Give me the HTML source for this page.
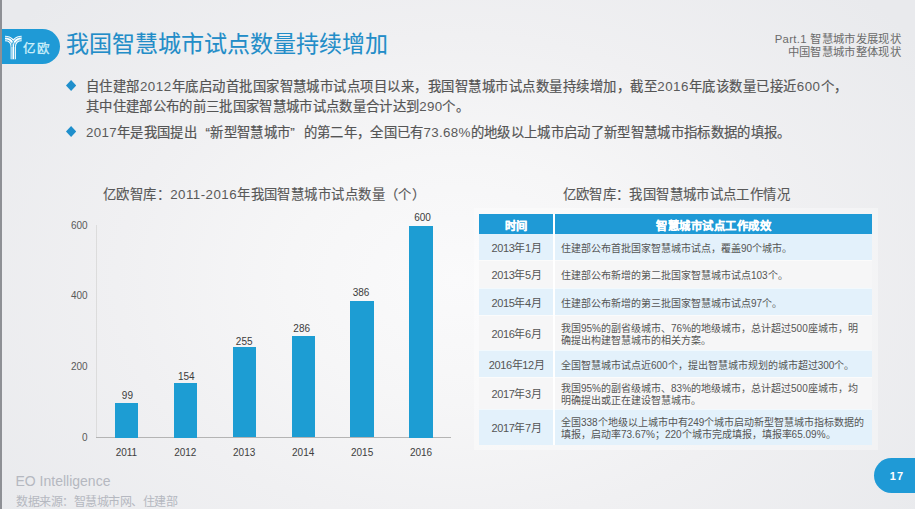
<!DOCTYPE html>
<html lang="zh-CN"><head><meta charset="utf-8">
<style>
*{margin:0;padding:0;box-sizing:border-box}
html,body{width:915px;height:509px;overflow:hidden}
body{position:relative;font-family:"Liberation Sans",sans-serif;color:#595959;
background:radial-gradient(ellipse 62% 80% at 50% 55%,#fafafb 0%,#f6f6f7 30%,#f0f0f2 60%,#e9eaed 100%);}
#tframe{left:474px;top:208px;width:404px;height:242px;background:rgba(255,255,255,0.35)}
.abs{position:absolute;white-space:nowrap}
#lbar{left:0;top:0;width:1.5px;height:509px;background:#8e9095}
#logo{left:2px;top:29px;width:58px;height:35px;background:#1f9ad6;border-radius:0 18px 18px 0}
#logo svg{position:absolute;left:0;top:0}
#logotxt{left:20.5px;top:7.5px;font-size:12.5px;line-height:25px;color:#cdf0fb;letter-spacing:1.4px;-webkit-text-stroke:0.35px #cdf0fb}
#title{left:65.5px;top:29px;font-size:23px;line-height:30px;color:#238dc8;-webkit-text-stroke:0.1px #238dc8}
#part{right:14px;top:33px;font-size:11.33px;line-height:13px;color:#6b6b6b;text-align:right;letter-spacing:0.33px}
.bul{left:86px;font-size:13.33px;line-height:20px;color:#555;letter-spacing:0.33px;-webkit-text-stroke:0.2px #555}
.bul .n{-webkit-text-stroke:0;color:#5a5a5a}
.ql{display:inline-block;width:13.33px;text-align:right}.qr{display:inline-block;width:13.33px;text-align:left}
.dia{width:10.2px;height:11px;background:#1f8fcc;clip-path:polygon(50% 0,100% 50%,50% 100%,0 50%)}
#ctitle{left:103px;top:185.5px;font-size:13.33px;line-height:18px;color:#595959;letter-spacing:0.45px;-webkit-text-stroke:0.15px #595959}
#ctitle .n{-webkit-text-stroke:0}
#ttitle{left:562.5px;top:185.5px;font-size:13.33px;line-height:18px;color:#595959;letter-spacing:0.38px;-webkit-text-stroke:0.15px #595959}
.ylab{font-size:10px;line-height:12px;color:#595959;text-align:right;width:30.6px}
.bar{background:#1d9dd3;width:23.4px}
.vlab{font-size:10px;line-height:12px;color:#3c3c3c;text-align:center;width:40px}
.xlab{font-size:10px;line-height:12px;color:#404040;text-align:center;width:40px}
#eo{left:15.5px;top:472.5px;font-size:14px;line-height:16px;color:#b5b8c0}
#src{left:16px;top:494.5px;font-size:12px;line-height:14px;color:#b5b8c0;letter-spacing:-0.5px}
#pg{left:874px;top:458px;width:50px;height:35px;background:#1f9ad6;border-radius:18px 0 0 18px;color:#fff;font-weight:bold;font-size:11px;line-height:36.5px;padding-left:15.8px;letter-spacing:1.1px}
table{position:absolute;left:479px;top:214px;width:393px;border-collapse:collapse;font-size:10px;color:#555}
td,th{padding:0;vertical-align:middle}
th{background:#1f9ad6;color:#fff;font-weight:bold;height:20px;font-size:11.33px;letter-spacing:0.5px;padding-top:2px;-webkit-text-stroke:0.25px #fff}
td.c1{width:75px;text-align:center;font-size:11px;line-height:12px;border-right:2px solid #fff;letter-spacing:-0.4px;padding:2px 0 0 1px}
th.c1{border-right:2px solid #fff}
td.c2{padding:4px 0 0 6px;line-height:12px}
td.c2 .n{letter-spacing:0}
tr.b td{background:#e3f1fb}
tr.w td{background:#f6f6f7}
tr+tr+tr td{box-shadow:inset 0 1px 0 rgba(255,255,255,.55)}
</style></head><body>
<div class="abs" id="lbar"></div>
<div class="abs" id="logo">
<svg width="58" height="35" viewBox="0 0 58 35">
<g fill="none" stroke-linecap="butt">
<path d="M3,9.5 C8,9.5 11.3,12.5 11.3,18 L11.3,30.2 M19.6,9.5 C14.6,9.5 11.3,12.5 11.3,18" stroke="#fff" stroke-width="5.3"/>
<path d="M3,8.2 C9,8.2 12.6,12 12.6,18 L12.6,30.5 M3,10.8 C7.5,10.8 10,13.5 10,18 L10,30.5" stroke="#1f9ad6" stroke-width="0.8"/>
<path d="M19.6,8.2 C13.6,8.2 10,12 10,18 M19.6,10.8 C15.1,10.8 12.6,13.5 12.6,18" stroke="#1f9ad6" stroke-width="0.8"/>
</g>
</svg>
<div class="abs" id="logotxt">亿欧</div>
</div>
<div class="abs" id="title">我国智慧城市试点数量持续增加</div>
<div class="abs" id="part">Part.1 智慧城市发展现状<br>中国智慧城市整体现状</div>

<div class="abs dia" style="left:66px;top:80px"></div>
<div class="abs bul" style="top:77px;letter-spacing:0.49px">自住建部<span class="n">2012</span>年底启动首批国家智慧城市试点项目以来，我国智慧城市试点数量持续增加，截至<span class="n">2016</span>年底该数量已接近<span class="n">600</span>个，</div>
<div class="abs bul" style="top:97px">其中住建部公布的前三批国家智慧城市试点数量合计达到<span class="n">290</span>个。</div>
<div class="abs dia" style="left:66px;top:126px"></div>
<div class="abs bul" style="top:123px"><span class="n">2017</span>年是我国提出<span class="ql">“</span>新型智慧城市<span class="qr">”</span>的第二年，全国已有<span class="n">73.68%</span>的地级以上城市启动了新型智慧城市指标数据的填报。</div>

<div class="abs" id="ctitle">亿欧智库：<span class="n">2011-2016</span>年我国智慧城市试点数量（个）</div>
<div class="abs" id="ttitle">亿欧智库：我国智慧城市试点工作情况</div>

<!-- chart -->
<div class="abs" style="left:96px;top:225px;width:1px;height:213px;background:#dcdcdc"></div>
<div class="abs" style="left:96px;top:437px;width:355px;height:1px;background:#b4b4b4"></div>
<div class="abs ylab" style="left:57px;top:220px">600</div>
<div class="abs ylab" style="left:57px;top:290px">400</div>
<div class="abs ylab" style="left:57px;top:361px">200</div>
<div class="abs ylab" style="left:57px;top:432px">0</div>

<div class="abs bar" style="left:114.7px;top:402.5px;height:35px"></div>
<div class="abs bar" style="left:173.6px;top:383px;height:54.5px"></div>
<div class="abs bar" style="left:232.5px;top:347.4px;height:90.1px"></div>
<div class="abs bar" style="left:291.5px;top:336.4px;height:101.1px"></div>
<div class="abs bar" style="left:350.4px;top:301.2px;height:136.3px"></div>
<div class="abs bar" style="left:409.3px;top:225.5px;height:212px"></div>

<div class="abs vlab" style="left:107.4px;top:389.5px">99</div>
<div class="abs vlab" style="left:166.3px;top:371px">154</div>
<div class="abs vlab" style="left:224.2px;top:335.5px">255</div>
<div class="abs vlab" style="left:281.7px;top:322.5px">286</div>
<div class="abs vlab" style="left:341.1px;top:286.5px">386</div>
<div class="abs vlab" style="left:402.5px;top:211.5px">600</div>

<div class="abs xlab" style="left:106.4px;top:446.5px">2011</div>
<div class="abs xlab" style="left:165.3px;top:446.5px">2012</div>
<div class="abs xlab" style="left:224.2px;top:446.5px">2013</div>
<div class="abs xlab" style="left:283.2px;top:446.5px">2014</div>
<div class="abs xlab" style="left:342.1px;top:446.5px">2015</div>
<div class="abs xlab" style="left:401px;top:446.5px">2016</div>

<div class="abs" id="tframe"></div>
<table>
<tr><th class="c1">时间</th><th>智慧城市试点工作成效</th></tr>
<tr class="b" style="height:26.4px"><td class="c1">2013年1月</td><td class="c2">住建部公布首批国家智慧城市试点，覆盖<span class="n">90</span>个城市。</td></tr>
<tr class="w" style="height:27.7px"><td class="c1">2013年5月</td><td class="c2">住建部公布新增的第二批国家智慧城市试点<span class="n">103</span>个。</td></tr>
<tr class="b" style="height:27px"><td class="c1">2015年4月</td><td class="c2">住建部公布新增的第三批国家智慧城市试点<span class="n">97</span>个。</td></tr>
<tr class="w" style="height:35px"><td class="c1">2016年6月</td><td class="c2">我国<span class="n">95%</span>的副省级城市、<span class="n">76%</span>的地级城市，总计超过<span class="n">500</span>座城市，明<br>确提出构建智慧城市的相关方案。</td></tr>
<tr class="b" style="height:27px"><td class="c1">2016年12月</td><td class="c2">全国智慧城市试点近<span class="n">600</span>个，提出智慧城市规划的城市超过<span class="n">300</span>个。</td></tr>
<tr class="w" style="height:32px"><td class="c1">2017年3月</td><td class="c2">我国<span class="n">95%</span>的副省级城市、<span class="n">83%</span>的地级城市，总计超过<span class="n">500</span>座城市，均<br>明确提出或正在建设智慧城市。</td></tr>
<tr class="b" style="height:35.8px"><td class="c1">2017年7月</td><td class="c2">全国<span class="n">338</span>个地级以上城市中有<span class="n">249</span>个城市启动新型智慧城市指标数据的<br>填报，启动率<span class="n">73.67%</span>；<span class="n">220</span>个城市完成填报，填报率<span class="n">65.09%</span>。</td></tr>
</table>

<div class="abs" id="eo">EO Intelligence</div>
<div class="abs" id="src">数据来源：智慧城市网、住建部</div>
<div class="abs" id="pg">17</div>
</body></html>
